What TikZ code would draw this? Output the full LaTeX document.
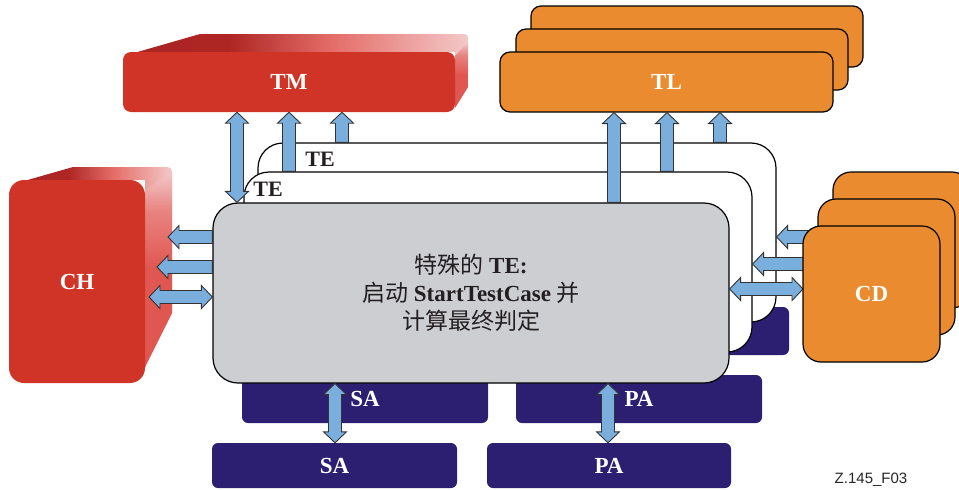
\documentclass[tikz,border=0pt]{standalone}
\usepackage{fontspec}
\setmainfont{Liberation Serif}
\newfontfamily\cjk{Noto Sans CJK SC}
\newfontfamily\figsans{Liberation Sans}
\usetikzlibrary{calc}
\definecolor{redF}{RGB}{208,52,38}
\definecolor{redD}{RGB}{168,36,36}
\definecolor{redP}{RGB}{243,200,200}
\definecolor{redL}{RGB}{224,86,80}
\definecolor{orangeF}{RGB}{233,139,46}
\definecolor{navyF}{RGB}{44,30,113}
\definecolor{grayF}{RGB}{205,206,210}
\definecolor{arrowB}{RGB}{122,174,220}
\definecolor{txtK}{RGB}{35,31,32}
\pgfdeclarehorizontalshading{topface}{100bp}{color(0bp)=(redD); color(25bp)=(redD); color(40bp)=(redD!85!redF); color(55bp)=(redL!80!redP); color(75bp)=(redP); color(100bp)=(redP)}
\pgfdeclareverticalshading{sideface}{100bp}{color(0bp)=(redL); color(25bp)=(redL); color(50bp)=(redL); color(65bp)=(redL!60!redP); color(75bp)=(redP); color(100bp)=(redP)}
\tikzset{
  lbl/.style={font=\fontsize{23}{27}\selectfont\bfseries},
  redbox/.style={fill=redF, inner sep=0pt, text=white, lbl},
  orbox/.style={fill=orangeF, draw=black, line width=1.2pt, inner sep=0pt, text=white, lbl},
  navybox/.style={fill=navyF, rounded corners=6pt, inner sep=0pt, text=white, lbl},
  tebox/.style={fill=white, draw=black, line width=1.2pt, rounded corners=25pt, inner sep=0pt},
  graybox/.style={fill=grayF, draw=black, line width=1.2pt, rounded corners=25pt, inner sep=0pt, align=center, text=txtK, font=\fontsize{23}{28}\selectfont},
  telbl/.style={text=txtK, font=\fontsize{22}{26}\selectfont\bfseries, inner sep=0pt},
  arr/.style={fill=arrowB, draw=black!80, line width=0.9pt, line join=miter},
}
\newcommand{\sarrow}[2]{%
  \path[arr] let \p1=(#1), \p2=(#2), \n1={atan2(\y2-\y1,\x2-\x1)}, \n2={veclen(\x2-\x1,\y2-\y1)} in
    [shift={(\x1,\y1)}, rotate=\n1]
    (0pt,-6.5pt) -- ({\n2-11pt},-6.5pt) -- ({\n2-11pt},-11.5pt) -- (\n2,0pt) -- ({\n2-11pt},11.5pt) -- ({\n2-11pt},6.5pt) -- (0pt,6.5pt) -- cycle;}
\newcommand{\darrow}[2]{%
  \path[arr] let \p1=(#1), \p2=(#2), \n1={atan2(\y2-\y1,\x2-\x1)}, \n2={veclen(\x2-\x1,\y2-\y1)} in
    [shift={(\x1,\y1)}, rotate=\n1]
    (0pt,0pt) -- (11pt,11.5pt) -- (11pt,6.5pt) -- ({\n2-11pt},6.5pt) -- ({\n2-11pt},11.5pt) -- (\n2,0pt) -- ({\n2-11pt},-11.5pt) -- ({\n2-11pt},-6.5pt) -- (11pt,-6.5pt) -- (11pt,-11.5pt) -- cycle;}
\begin{document}
\begin{tikzpicture}[x=1pt,y=-1pt]
\useasboundingbox (0,0) rectangle (959,490);

% ---- TM (3D red block)
\shade[shading=topface] (127,55) -- (200,34) -- (460,34) .. controls (468,34) .. (468,42) -- (468,87) -- (455,108) -- (455,52) -- cycle;
\shade[shading=sideface] (455,56) -- (468,42) -- (468,87) -- (455,108) -- cycle;
\node[redbox, rounded corners=8pt, minimum width=332pt, minimum height=60pt] (tm) at (289,82) {TM};

% ---- TL stack
\node[orbox, rounded corners=10pt, minimum width=332pt, minimum height=61pt] (tl3) at (697,36.5) {};
\node[orbox, rounded corners=10pt, minimum width=332pt, minimum height=61pt] (tl2) at (682,59.5) {};
\node[orbox, rounded corners=10pt, minimum width=333pt, minimum height=60pt] (tl) at (666.5,82) {TL};

% ---- CH (3D red block)
\shade[shading=topface] (24,181) -- (73,167) -- (162,167) .. controls (172,167) .. (172,177) -- (172,313) -- (145,367) -- (145,180) -- cycle;
\shade[shading=sideface] (145,190) -- (172,172) -- (172,313) -- (145,367) -- cycle;
\node[redbox, rounded corners=15pt, minimum width=136pt, minimum height=203pt] (ch) at (77,281.5) {CH};

% ---- hidden navy boxes
\node[navybox, minimum width=246pt, minimum height=48pt] (usa) at (365,399) {SA};
\node[navybox, minimum width=246pt, minimum height=48pt] (upa) at (639,399) {PA};
\node[navybox, minimum width=229pt, minimum height=48pt] (rnv) at (674.5,331) {};

% ---- TE stack and special TE
\node[tebox, minimum width=518pt, minimum height=179pt] (te1) at (517,232.5) {};
\node[tebox, minimum width=508pt, minimum height=180pt] (te2) at (498,262) {};
\node[graybox, minimum width=516pt, minimum height=180pt] (gray) at (471,293)
  {{\cjk 特殊的} \textbf{TE:}\\{\cjk 启动} \textbf{StartTestCase} {\cjk 并}\\{\cjk 计算最终判定}};

% ---- bottom navy boxes
\node[navybox, minimum width=245pt, minimum height=45pt] (sab) at (334.5,465.5) {SA};
\node[navybox, minimum width=244pt, minimum height=45pt] (pab) at (609,465.5) {PA};

% ---- helper coordinates
\coordinate (xTMa) at (237,0);
\coordinate (xTMb) at (289,0);
\coordinate (xTMc) at (342,0);
\coordinate (xTLa) at (614,0);
\coordinate (xTLb) at (667,0);
\coordinate (xTLc) at (720,0);
\coordinate (yLa) at (0,237);
\coordinate (yLb) at (0,267);
\coordinate (yLc) at (0,297);
\coordinate (chA) at (168,237);
\coordinate (chB) at (157,267);
\coordinate (chC) at (149,297);
\coordinate (cdA) at (814,237);
\coordinate (cdB) at (808,264);
\coordinate (cdC) at (803,289);
\coordinate (xSA) at (335,0);
\coordinate (xPA) at (608,0);

% ---- arrows
\darrow{xTMa |- gray.north}{xTMa |- tm.south}
\sarrow{xTMb |- te2.north}{xTMb |- tm.south}
\sarrow{xTMc |- te1.north}{xTMc |- tm.south}
\sarrow{xTLa |- gray.north}{xTLa |- tl.south}
\sarrow{xTLb |- te2.north}{xTLb |- tl.south}
\sarrow{xTLc |- te1.north}{xTLc |- tl.south}
\sarrow{yLa -| gray.west}{chA}
\sarrow{yLb -| gray.west}{chB}
\darrow{yLc -| gray.west}{chC}
\sarrow{cdA}{cdA -| te1.east}
\sarrow{cdB}{cdB -| te2.east}
\darrow{cdC -| gray.east}{cdC}
\darrow{xSA |- gray.south}{xSA |- sab.north}
\darrow{xPA |- gray.south}{xPA |- pab.north}

% ---- CD stack
\node[orbox, rounded corners=18pt, minimum width=137pt, minimum height=136pt] (cd3) at (901.5,240) {};
\node[orbox, rounded corners=18pt, minimum width=137pt, minimum height=136pt] (cd2) at (886.5,267) {};
\node[orbox, rounded corners=18pt, minimum width=137pt, minimum height=136pt] (cd) at (871.5,294) {CD};

% ---- TE labels
\node[telbl] (te1l) at (320,159) {TE};
\node[telbl] (te2l) at (268,189) {TE};

% ---- figure id
\node[font=\figsans\fontsize{15}{18}\selectfont, text=black!85] (fig) at (871,480) {Z.145\_F03};
\end{tikzpicture}
\end{document}
